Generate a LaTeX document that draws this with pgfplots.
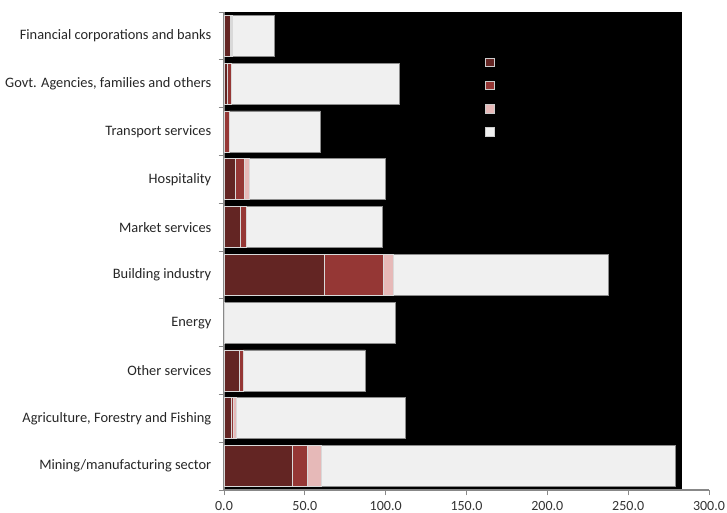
\documentclass[border=0pt]{standalone}
\usepackage{pgfplots}
\pgfplotsset{compat=1.18}
\usepackage{pgfplotstable}
\usepackage{fontspec}
\setmainfont{Carlito}
\definecolor{cA}{HTML}{632523}
\definecolor{cB}{HTML}{953735}
\definecolor{cC}{HTML}{E6B9B8}
\definecolor{cD}{HTML}{F0F0F0}
\definecolor{axgray}{HTML}{888888}
\pgfplotstableread{
y  a    b    c    d
0  42.3 9.4  8.3  219.0
1  4.3  1.7  1.4  104.7
2  9.5  2.4  0.3  75.2
3  0.2  0.1  0.1  105.6
4  61.8 36.5 6.2  133.0
5  10.1 3.5  0.3  84.0
6  7.2  5.4  2.9  84.1
7  0.3  2.8  0.2  56.3
8  2.0  2.5  0.3  103.6
9  3.7  0.8  0.5  26.3
}\datatable
\pgfplotsset{geom/.style={at={(168pt,17.25pt)}, anchor=south west,
  scale only axis, width=363.75pt, height=358.5pt,
  xmin=0, xmax=300, ymin=-0.5, ymax=9.5}}
\begin{document}
\begin{tikzpicture}[x=1pt,y=1pt]
\useasboundingbox (0,0) rectangle (545.25pt,384.75pt);
% background: grid and black plot-area fill
\begin{axis}[geom, axis lines=none, xtick={0,50,...,300}, ytick=\empty,
  xticklabels={}, xmajorgrids, major grid style={gray!50, line width=0.8pt}]
\fill[black] (axis cs:0,-0.5) rectangle (axis cs:283.3,9.5);
\end{axis}
\begin{axis}[
  geom,
  xbar stacked, bar width=0.86, bar shift=0pt,
  axis x line*=bottom, axis y line*=left,
  axis line style={axgray, line width=0.8pt},
  xtick={0,50,...,300},
  xticklabel style={/pgf/number format/fixed, /pgf/number format/fixed zerofill, /pgf/number format/precision=1, /pgf/number format/assume math mode=true},
  x tick label style={font=\fontsize{10.5}{12}\selectfont, text=black!80, yshift=-1pt},
  tick align=outside,
  major tick length=4pt,
  xtick style={axgray, line width=0.6pt},
  ytick={0,...,9},
  yticklabels={Mining/manufacturing sector, {Agriculture, Forestry and Fishing}, Other services, Energy, Building industry, Market services, Hospitality, Transport services, {Govt. Agencies, families and others}, Financial corporations and banks},
  y tick label style={font=\fontsize{10.8}{12}\selectfont, text=black!85, xshift=-2pt},
  ytick style={draw=none},
  minor ytick={-0.5,0.5,...,9.5},
  minor y tick style={axgray, line width=0.6pt, draw=axgray},
  minor tick length=4pt,
  legend style={draw=none, fill=none, at={(axis cs:161.5,8.55)}, anchor=north west, inner sep=0pt, row sep=10.5pt, font=\fontsize{10}{12}\selectfont},
  legend image code/.code={\draw[#1, draw=white!80!black, line width=0.5pt] (0pt,-3.2pt) rectangle (6.5pt,3.2pt);},
]
\addplot[fill=cA, draw=white!85!black, line width=0.6pt] table[x=a, y=y] {\datatable};
\addlegendentry{}
\addplot[fill=cB, draw=white!85!black, line width=0.6pt] table[x=b, y=y] {\datatable};
\addlegendentry{}
\addplot[fill=cC, draw=white!85!black, line width=0.6pt] table[x=c, y=y] {\datatable};
\addlegendentry{}
\addplot[fill=cD, draw=black!45, line width=0.6pt] table[x=d, y=y] {\datatable};
\addlegendentry{}
\end{axis}
\end{tikzpicture}
\end{document}
